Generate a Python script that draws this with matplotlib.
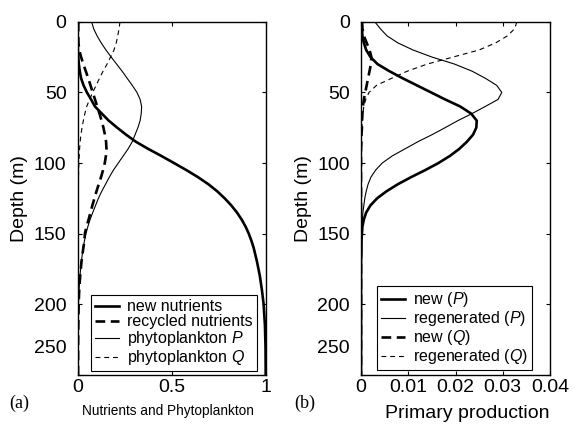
import matplotlib
matplotlib.use('Agg')
import matplotlib.pyplot as plt

plt.rcParams['font.family'] = ['Liberation Sans', 'DejaVu Sans']
plt.rcParams['mathtext.fontset'] = 'custom'
plt.rcParams['mathtext.rm'] = 'Liberation Sans'
plt.rcParams['mathtext.it'] = 'Liberation Sans:italic'
plt.rcParams['lines.scale_dashes'] = False

# depth grid (m) shared by all profiles
depth = [0, 5, 10, 15, 20, 25, 30, 35, 40, 45, 50, 55, 60, 65, 70, 75, 80, 85, 90, 95,
         100, 105, 110, 115, 120, 125, 130, 135, 140, 145, 150, 155, 160,
         170, 180, 190, 200, 215, 230, 250]

# (a) nutrients and phytoplankton
new_nutr = [0, 0, 0, 0, .001, .003, .006, .011, .018, .031, .049, .071, .092, .128, .165, .21,
            .258, .31, .375, .445, .512, .578, .64, .695, .742, .782, .817, .847, .872, .893,
            .91, .924, .936, .954, .969, .98, .989, .996, .999, 1.0]
recycled = [.003, .003, .003, .004, .008, .018, .03, .043, .056, .068, .08, .092, .104, .116,
            .127, .137, .145, .151, .153, .15, .144, .135, .124, .112, .1, .089, .078, .068,
            .058, .047, .038, .036, .03, .02, .013, .008, .005, .003, .002, .002]
phyto_P = [.074, .085, .103, .125, .15, .178, .207, .236, .263, .29, .315, .332, .34, .338,
           .332, .32, .305, .29, .268, .242, .216, .19, .168, .148, .128, .11, .095, .08,
           .066, .054, .044, .036, .029, .019, .012, .007, .004, .002, .001, .001]
phyto_Q = [.225, .22, .213, .205, .193, .175, .156, .135, .116, .098, .08, .063, .048, .038,
           .03, .023, .017, .013, .01, .008, .006, .005, .004, .004, .003, .003, .003, .003,
           .003, .003, .003, .003, .003, .003, .002, .002, .002, .002, .002, .002]

# (b) primary production
new_P = [.0002, .0002, .0003, .0006, .0011, .002, .0035, .006, .0088, .0118, .0148, .0178,
         .021, .0233, .0245, .0244, .0237, .0224, .0208, .0188, .0164, .0136, .0106, .0078,
         .0054, .0034, .002, .0011, .0006, .0003, .0002, .0001, .0001, 0, 0, 0, 0, 0, 0, 0]
regen_P = [.0029, .0041, .0055, .0078, .011, .015, .0198, .0235, .0263, .0287, .0298, .029,
           .0263, .0235, .0205, .0178, .015, .012, .0093, .0066, .0045, .0031, .0021, .0015,
           .0011, .0008, .0006, .0004, .0003, .0002, .0001, 0, 0, 0, 0, 0, 0, 0, 0, 0]
new_Q = [.0002, .0003, .0006, .0012, .0018, .0022, .0021, .0018, .0015, .0012, .0009, .0006,
         .0004, .0003, .0002, .0002, .0001, .0001, 0, 0, 0, 0, 0, 0, 0, 0, 0, 0, 0, 0, 0, 0,
         0, 0, 0, 0, 0, 0, 0, 0]
regen_Q = [.033, .0325, .031, .0285, .025, .0195, .014, .0098, .0065, .0033, .0017, .001,
           .0006, .0004, .0003, .0002, .0001, .0001, 0, 0, 0, 0, 0, 0, 0, 0, 0, 0, 0, 0, 0, 0,
           0, 0, 0, 0, 0, 0, 0, 0]

depth_ticks = [0, 50, 100, 150, 200, 250]
depth_labels = ['0', '50', '100', '150', '200', '250']

thick = dict(color='black', lw=1.9)
thin = dict(color='black', lw=0.8)
dash_thick = (7, 4)
dash_thin = (3.5, 2.8)

fig = plt.figure(figsize=(5.75, 4.24), dpi=100)
axa = fig.add_axes([77.7 / 575, 49 / 424, 188 / 575, 353.3 / 424])
axb = fig.add_axes([361 / 575, 49 / 424, 189 / 575, 353.3 / 424])

axa.plot(new_nutr, depth, label='new nutrients', **thick)
axa.plot(recycled, depth, label='recycled nutrients', dashes=dash_thick, **thick)
axa.plot(phyto_P, depth, label='phytoplankton $P$', **thin)
axa.plot(phyto_Q, depth, label='phytoplankton $Q$', dashes=dash_thin, **thin)
axa.set_xlim(0, 1)
axa.set_xticks([0, 0.5, 1])
axa.set_xticklabels(['0', '0.5', '1'])

axb.plot(new_P, depth, label='new ($P$)', **thick)
axb.plot(regen_P, depth, label='regenerated ($P$)', **thin)
axb.plot(new_Q, depth, label='new ($Q$)', dashes=dash_thick, **thick)
axb.plot(regen_Q, depth, label='regenerated ($Q$)', dashes=dash_thin, **thin)
axb.set_xlim(0, 0.04)
axb.set_xticks([0, 0.01, 0.02, 0.03, 0.04])
axb.set_xticklabels(['0', '0.01', '0.02', '0.03', '0.04'])

for ax in (axa, axb):
    ax.set_ylim(250, 0)
    ax.set_yticks(depth_ticks)
    ax.set_yticklabels(depth_labels[:-1] + [''])
    # the bottom depth label sits raised above its tick, as in the original
    ax.text(-0.06, 231, depth_labels[-1], ha='right', va='center', fontsize=14,
            transform=ax.get_yaxis_transform())
    ax.tick_params(direction='in', length=3, width=0.8, top=True, right=True,
                   labelsize=14)
    ax.tick_params(axis='y', pad=8)
    ax.tick_params(axis='x', pad=3)
    for s in ax.spines.values():
        s.set_linewidth(1.0)
    ax.set_ylabel('Depth (m)', fontsize=14, labelpad=4)

axa.set_xlabel('Nutrients and Phytoplankton', fontsize=9.8)
axa.xaxis.set_label_coords(0.48, -0.082)
axb.set_xlabel('Primary production', fontsize=14)
axb.xaxis.set_label_coords(0.56, -0.085)

leg_opts = dict(loc='lower right', fontsize=11.5, frameon=True, fancybox=False,
                edgecolor='black', framealpha=1, borderaxespad=0, handlelength=1.5,
                handletextpad=0.5, labelspacing=0.0, borderpad=0.25)
la = axa.legend(bbox_to_anchor=(0.954, 0.011), **leg_opts)
lb = axb.legend(bbox_to_anchor=(0.903, 0.013), **leg_opts)
for lg in (la, lb):
    lg.get_frame().set_linewidth(0.8)

fig.text(19 / 575, 1 - 403 / 424, '(a)', family='Liberation Serif', fontsize=13,
         ha='center', va='center')
fig.text(305 / 575, 1 - 403 / 424, '(b)', family='Liberation Serif', fontsize=13,
         ha='center', va='center')

fig.savefig('out.png', dpi=100)
